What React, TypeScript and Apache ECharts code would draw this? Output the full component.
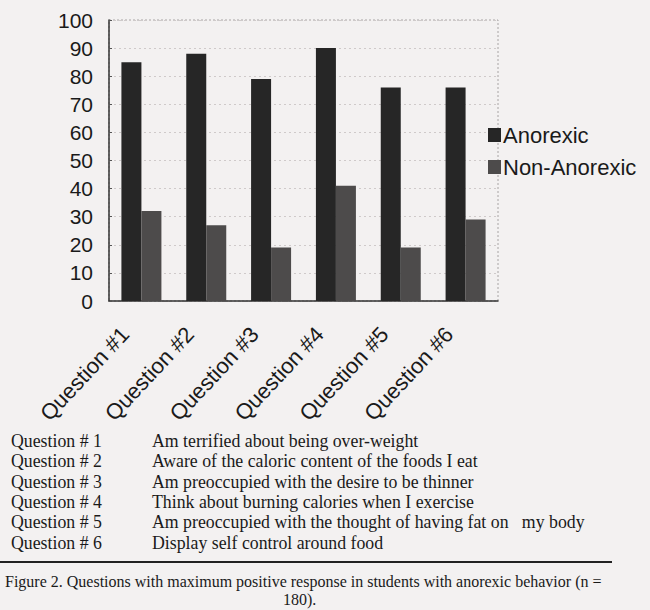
import React, { useEffect, useRef } from "react";
import * as echarts from "echarts";

const categories = ["Question #1", "Question #2", "Question #3", "Question #4", "Question #5", "Question #6"];
const anorexic = [85, 88, 79, 90, 76, 76];
const nonAnorexic = [32, 27, 19, 41, 19, 29];
const yTicks = { min: 0, max: 100, interval: 10 };
const tableKeys = ["Question # 1", "Question # 2", "Question # 3", "Question # 4", "Question # 5", "Question # 6"];
const tableTexts = [
  "Am terrified about being over-weight",
  "Aware of the caloric content of the foods I eat",
  "Am preoccupied with the desire to be thinner",
  "Think about burning calories when I exercise",
  "Am preoccupied with the thought of having fat on   my body",
  "Display self control around food",
];
const captionLine1 = "Figure 2. Questions with maximum positive response in students with anorexic behavior (n =";
const captionLine2 = "180).";

const SANS = "'Liberation Sans', Arial, sans-serif";
const SERIF = "'Liberation Serif', 'Times New Roman', serif";

export default function App() {
  const ref = useRef<HTMLDivElement>(null);
  useEffect(() => {
    if (!ref.current) return;
    const chart = echarts.init(ref.current, null, { renderer: "svg" });
    const graphic: any[] = [];
    tableKeys.forEach((k, i) => {
      graphic.push({
        type: "text",
        left: 11,
        top: 432 + i * 20.3,
        style: { text: k, font: `17.8px ${SERIF}`, fill: "#1a1a1a" },
      });
      graphic.push({
        type: "text",
        left: 152,
        top: 432 + i * 20.3,
        style: { text: tableTexts[i], font: `17.8px ${SERIF}`, fill: "#1a1a1a" },
      });
    });
    graphic.push({
      type: "rect",
      shape: { x: 0, y: 561, width: 612, height: 2 },
      style: { fill: "#222" },
    });
    graphic.push({
      type: "text",
      left: 5,
      top: 573,
      style: { text: captionLine1, font: `16px ${SERIF}`, fill: "#1a1a1a" },
    });
    graphic.push({
      type: "text",
      left: 283,
      top: 591,
      style: { text: captionLine2, font: `16px ${SERIF}`, fill: "#1a1a1a" },
    });
    graphic.push({
      type: "rect",
      shape: { x: 109, y: 20, width: 389, height: 281 },
      style: { fill: "none", stroke: "#a8a4a4", lineWidth: 1, lineDash: [2, 2] },
      z: 0,
    });

    chart.setOption({
      animation: false,
      backgroundColor: "#f3f1f1",
      grid: { left: 109, right: 152, top: 20, bottom: 309, containLabel: false },
      legend: {
        orient: "vertical",
        left: 486,
        top: 120,
        itemWidth: 13,
        itemHeight: 14,
        itemGap: 10,
        icon: "rect",
        padding: [4, 2, 4, 2],
        textStyle: { fontFamily: SANS, fontSize: 22, color: "#1a1a1a", padding: [0, 0, 0, -3] },
        data: ["Anorexic", "Non-Anorexic"],
      },
      xAxis: {
        type: "category",
        data: categories,
        axisLine: { show: true, lineStyle: { color: "#333", width: 1.5 } },
        axisTick: { show: false },
        axisLabel: {
          rotate: 47,
          interval: 0,
          margin: 12,
          fontFamily: SANS,
          fontSize: 22,
          color: "#1a1a1a",
          padding: [0, 24, 0, 0],
        },
      },
      yAxis: {
        type: "value",
        min: yTicks.min,
        max: yTicks.max,
        interval: yTicks.interval,
        axisLine: { show: true, lineStyle: { color: "#333", width: 1.5 } },
        axisTick: { show: true, inside: true, length: 3, lineStyle: { color: "#555" } },
        axisLabel: {
          margin: 16,
          fontFamily: SANS,
          fontSize: 21,
          color: "#1a1a1a",
        },
        splitLine: { show: true, lineStyle: { color: "#cfcaca", type: [2, 3], width: 1 } },
      },
      series: [
        {
          name: "Anorexic",
          type: "bar",
          data: anorexic,
          barWidth: 20,
          barGap: "0%",
          itemStyle: { color: "#262626" },
        },
        {
          name: "Non-Anorexic",
          type: "bar",
          data: nonAnorexic,
          barWidth: 20,
          barGap: "0%",
          itemStyle: { color: "#4d4b4b" },
        },
      ],
      graphic,
    });
    return () => chart.dispose();
  }, []);
  return (
    <div
      ref={ref}
      style={{ position: "fixed", left: 0, top: 0, width: 650, height: 610 }}
    />
  );
}
